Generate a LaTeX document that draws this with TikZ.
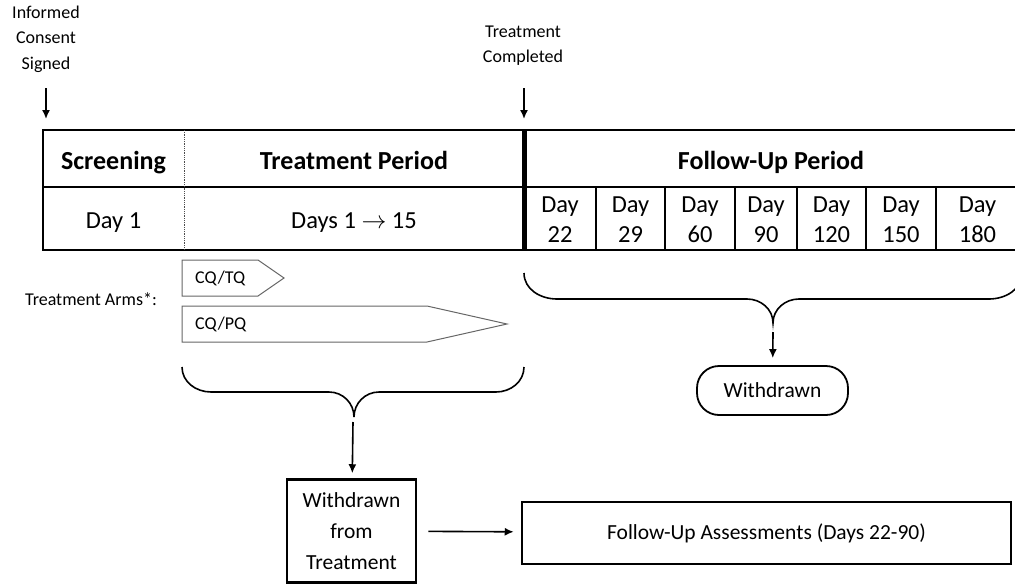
\documentclass[tikz,border=0pt]{standalone}
\usepackage{fontspec}
\setmainfont{Carlito}
\usetikzlibrary{arrows.meta}
\tikzset{
  hdr/.style = {anchor=base, inner sep=0pt, font=\bfseries\fontsize{26}{30}\selectfont},
  day/.style = {align=center, inner sep=0pt, font=\fontsize{24.5}{30}\selectfont},
  lbl/.style = {align=center, inner sep=0pt, font=\fontsize{18}{25.5}\selectfont},
  armtxt/.style = {anchor=west, inner sep=0pt, font=\fontsize{18}{22}\selectfont},
  box/.style = {draw=black, line width=2.5pt, align=center, inner sep=0pt, font=\fontsize{21.5}{31}\selectfont},
  arm/.style = {draw=black!60, line width=1pt},
  brc/.style = {draw=black, line width=1.6pt},
  link/.style = {->, line width=1.6pt}
}

\begin{document}
\begin{tikzpicture}[x=1pt, y=-1pt, >={Latex[length=9pt,width=8pt]}]
\useasboundingbox (0,0) rectangle (1015,584);

\node [lbl] (consent) at (46,39) {Informed\\Consent\\Signed};
\node [lbl] (done) at (523,45.5) {Treatment\\Completed};
\coordinate (consentA) at (46,88);
\coordinate (consentB) at (46,119);
\coordinate (doneA) at (524,88);
\coordinate (doneB) at (524,119);
\draw [link] (consentA) -- (consentB);
\draw [link] (doneA) -- (doneB);

\draw [line width=2pt] (43,130) rectangle (1019,250);
\draw [line width=2pt] (43,187) -- (1019,187);
\draw [densely dotted, line width=0.8pt, black!70] (184,130) -- (184,250);
\draw [line width=5pt] (524,130) -- (524,250);
\foreach \x in {596,665,735,797,866,936}
  \draw [line width=1.8pt] (\x,187) -- (\x,250);

\node [hdr] (scr) at (113.5,169) {Screening};
\node [hdr] (trt) at (354,169) {Treatment Period};
\node [hdr] (fup) at (771,169) {Follow-Up Period};
\node [day, anchor=base] (d1) at (113.5,228) {Day 1};
\node [day, anchor=base] (d15) at (354,228) {Days 1 $\rightarrow$ 15};
\foreach \x/\d in {560/22, 630.5/29, 700/60, 766/90, 831.5/120, 901/150, 977.5/180}
  \node [day] (day\d) at (\x,220) {Day\\\d};

\node [lbl] (arms) at (91,299) {Treatment Arms*:};
\draw [arm] (182,260) -- (258,260) -- (284,278) -- (258,296) -- (182,296) -- cycle;
\draw [arm] (182,306) -- (427,306) -- (507,324) -- (427,342) -- (182,342) -- cycle;
\node [armtxt] (tq) at (195,278) {CQ/TQ};
\node [armtxt] (pq) at (195,324) {CQ/PQ};

\draw [brc] (182,367) to[out=-90,in=180] (211,392) -- (329,392) to[out=0,in=90] (354,417)
  to[out=90,in=180] (379,392) -- (496,392) to[out=0,in=-90] (524,367);
\draw [brc] (524,273) to[out=-90,in=180] (557,299) -- (747,299) to[out=0,in=90] (773,323)
  to[out=90,in=180] (799,299) -- (989,299) to[out=0,in=-90] (1022,273);

\node [box, minimum width=129pt, minimum height=103pt] (wft) at (351.5,531) {Withdrawn\\from\\Treatment};
\node [box, minimum width=489pt, minimum height=62pt] (fua) at (766.5,533) {Follow-Up Assessments (Days 22-90)};
\node [box, line width=1.8pt, rounded corners=22pt, minimum width=151pt, minimum height=49pt] (wd) at (772.5,390.5) {Withdrawn};

\coordinate (tipL) at (353,422);
\coordinate (tipR) at (773,332);
\draw [link, shorten >=5pt] (tipL) -- (wft);
\draw [link, shorten >=7pt] (tipR) -- (wd);
\draw [link, shorten <=11pt, shorten >=7pt] (wft) -- (fua);
\end{tikzpicture}
\end{document}
